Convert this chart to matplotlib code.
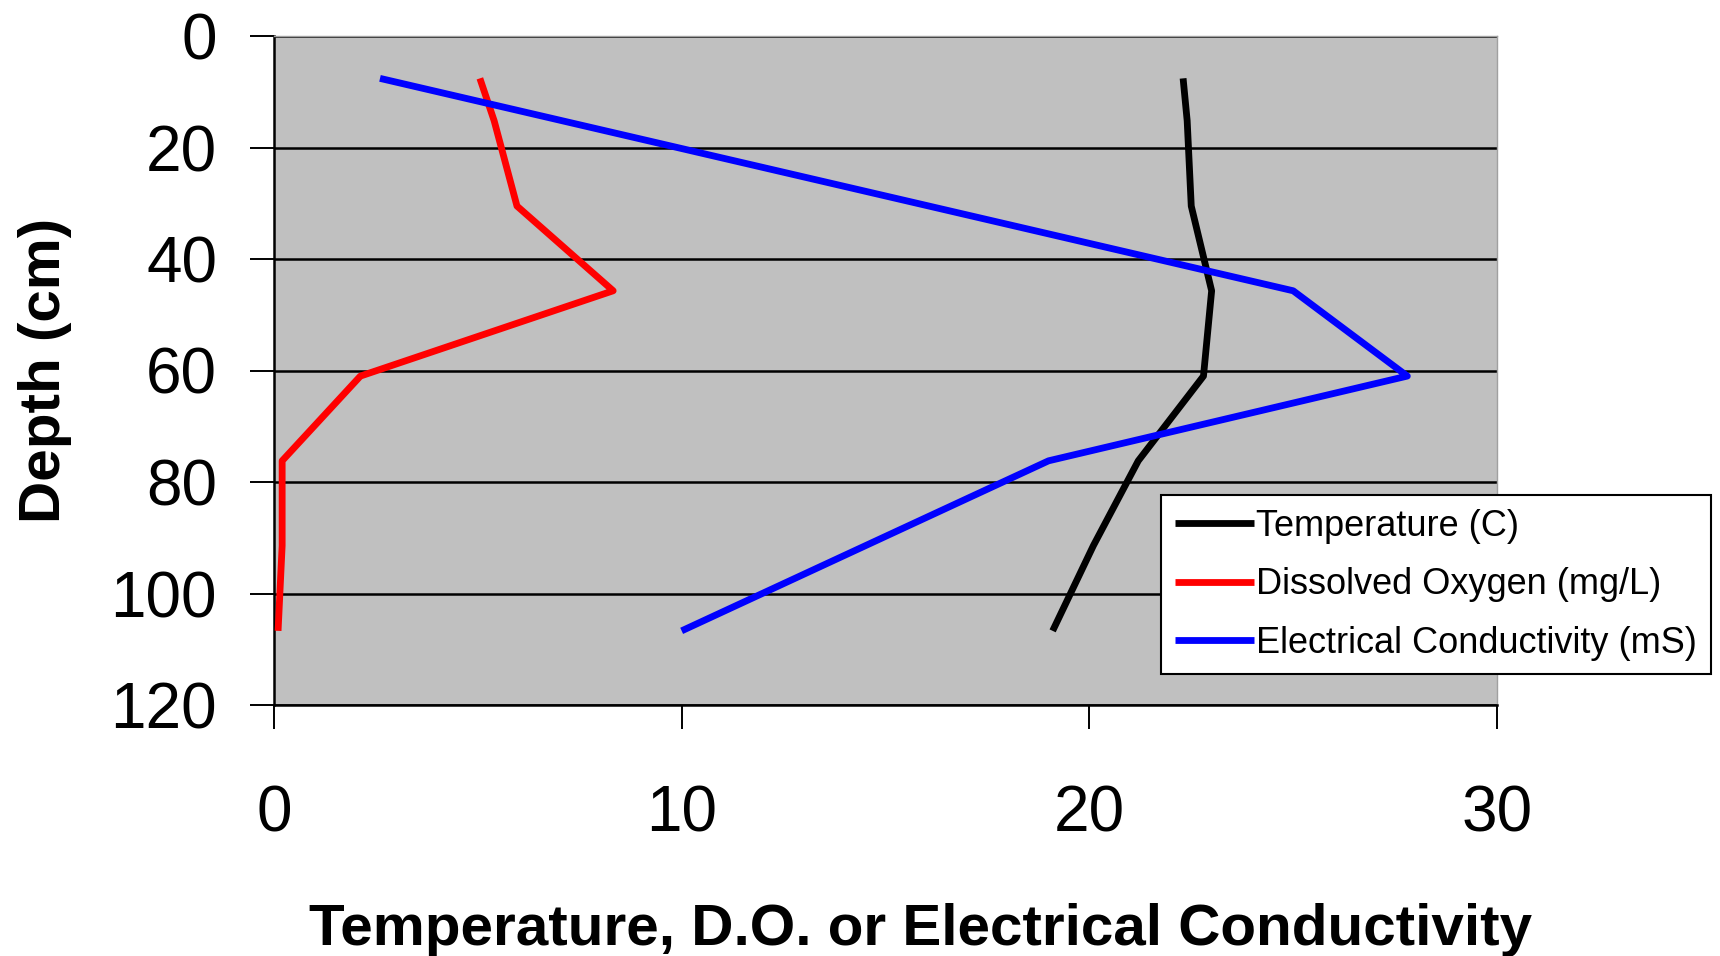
import matplotlib
matplotlib.use("Agg")
import matplotlib.pyplot as plt

# depths in cm (probe readings)
depth = [7.6, 15.2, 30.5, 45.7, 61.0, 76.2, 91.4, 106.7]
temperature = [22.3, 22.4, 22.5, 23.0, 22.8, 21.2, 20.1, 19.1]
oxygen = [5.05, 5.4, 5.96, 8.32, 2.12, 0.2, 0.2, 0.1]

ec_depth = [7.6, 45.7, 61.0, 76.2, 106.7]
conductivity = [2.6, 25.0, 27.8, 19.0, 10.0]

labels = ["Temperature (C)", "Dissolved Oxygen (mg/L)", "Electrical Conductivity (mS)"]

plt.rcParams["font.family"] = ["Liberation Sans", "DejaVu Sans"]

W, H = 1720, 956
fig = plt.figure(figsize=(W / 100, H / 100), dpi=100)
ax = fig.add_axes([274 / W, 1 - 705 / H, 1223 / W, 669 / H])
ax.set_facecolor("#C0C0C0")

lw = 4.9
ax.plot(temperature, depth, color="black", lw=lw, solid_capstyle="butt", label=labels[0], zorder=3)
ax.plot(oxygen, depth, color="#FF0000", lw=lw, solid_capstyle="butt", label=labels[1], zorder=3)
ax.plot(conductivity, ec_depth, color="#0000FF", lw=lw, solid_capstyle="butt", label=labels[2], zorder=3)

ax.set_xlim(0, 30)
ax.set_ylim(120, 0)
ax.set_xticks([0, 10, 20, 30])
ax.set_yticks([0, 20, 40, 60, 80, 100, 120])
ax.yaxis.grid(True, color="black", lw=1.8)
ax.set_axisbelow(True)

for s in ["top", "right"]:
    ax.spines[s].set_color("#A0A0A0")
    ax.spines[s].set_linewidth(1.0)
for s in ["left", "bottom"]:
    ax.spines[s].set_color("black")
    ax.spines[s].set_linewidth(1.8)

ax.tick_params(axis="both", direction="out", length=17, width=1.4, labelsize=46, color="black")
ax.tick_params(axis="y", pad=24)
ax.tick_params(axis="x", pad=40)

fig.text(921 / W, 11 / H, "Temperature, D.O. or Electrical Conductivity",
         ha="center", va="baseline", fontsize=42, fontweight="bold")
fig.text(45 / W, 1 - 370 / H, "Depth (cm)", rotation=90,
         ha="center", va="center", fontsize=42, fontweight="bold")

leg = fig.legend(loc="upper left", bbox_to_anchor=(1161 / W, 1 - 495 / H),
                 bbox_transform=fig.transFigure, borderaxespad=0,
                 fontsize=26, handlelength=2.2, handletextpad=0.05,
                 borderpad=0.38, labelspacing=0.65, fancybox=False,
                 framealpha=1, edgecolor="black")
leg.get_frame().set_linewidth(1.5)

fig.savefig("out.png", dpi=100)
